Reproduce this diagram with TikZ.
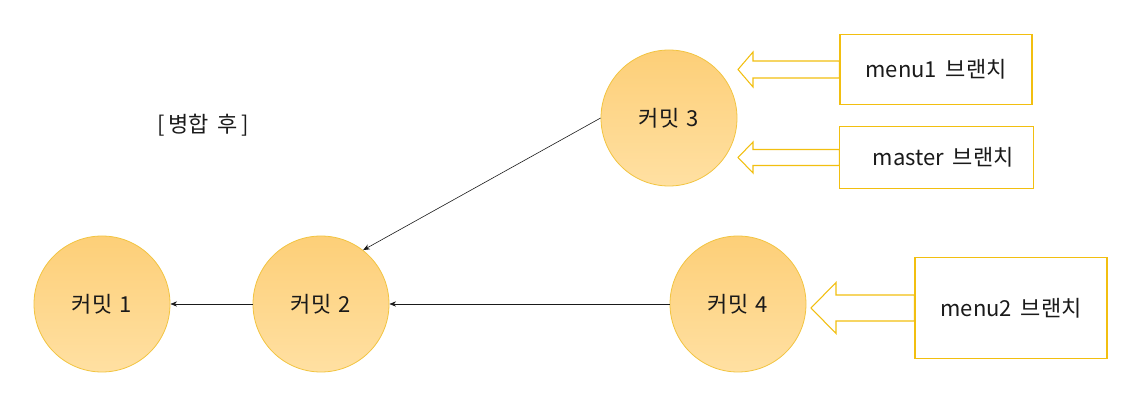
\documentclass[tikz,border=0pt]{standalone}
\usepackage{fontspec}
\setmainfont{Noto Sans CJK KR}
\usetikzlibrary{calc,arrows.meta}

\definecolor{bord}{HTML}{F2C440}
\definecolor{haut}{HTML}{FDCF78}
\definecolor{bas}{HTML}{FFE0A2}
\definecolor{cadre}{HTML}{F2BF10}
\definecolor{encre}{HTML}{1A1A1A}

\tikzset{
  texte/.style={text=encre, font=\fontsize{16.5}{19}\selectfont},
  commit/.style={texte, circle, draw=bord, line width=0.6pt, top color=haut, bottom color=bas,
    minimum size=102pt, inner sep=0pt},
  branche/.style={texte, draw=cadre, line width=0.8pt, fill=white},
  lien/.style={-{Stealth[length=5pt,width=4pt]}, line width=0.45pt, encre},
  pointeur/.style={draw=cadre, line width=0.8pt, fill=white}
}

% fleche creuse : pointe, cadre, longueur tete, demi-tete, demi-tige
\newcommand{\fleche}[5]{%
  \draw[pointeur] (#1) -- ++(#3,-#4) -- ++(0,#4-#5)
    -- ($(#2.west |- #1)+(0,-#5)$) -- ($(#2.west |- #1)+(0,#5)$)
    -- ($(#1)+(#3,#5)$) -- ++(0,#4-#5) -- cycle;}

\begin{document}
\begin{tikzpicture}[x=0.75pt, y=-0.75pt]

\useasboundingbox (0,0) rectangle (1125,402);

% Titre
\node[texte] (titre) at (203,125) {[\,병합\hspace{0.4em}후\,]};

% Commits
\node[commit] (c1) at (102,304) {커밋\hspace{0.35em}1};
\node[commit] (c2) at (321,304) {커밋\hspace{0.35em}2};
\node[commit] (c3) at (669,118) {커밋\hspace{0.35em}3};
\node[commit] (c4) at (738,304) {커밋\hspace{0.35em}4};

% Pointeurs
\coordinate (p1) at (738,69.5);
\coordinate (p2) at (738,157.5);
\coordinate (p3) at (811,308);

% Branches
\node[branche, minimum width=144pt, minimum height=52pt] (b1) at (936,69.5) {menu1\hspace{0.4em}브랜치};
\node[branche, minimum width=145pt, minimum height=47pt] (b2) at (936.5,157.5) {\hspace{10pt}master\hspace{0.4em}브랜치};
\node[branche, minimum width=144pt, minimum height=76pt] (b3) at (1011,308) {menu2\hspace{0.4em}브랜치};

% Liens
\draw[lien] (c2) -- (c1);
\draw[lien] (c4) -- (c2);
\draw[lien] (c3.west) -- (c2.52);

\fleche{p1}{b1}{15}{17.5}{8.5}
\fleche{p2}{b2}{15}{15.5}{8}
\fleche{p3}{b3}{25}{25.5}{13}

\end{tikzpicture}
\end{document}
